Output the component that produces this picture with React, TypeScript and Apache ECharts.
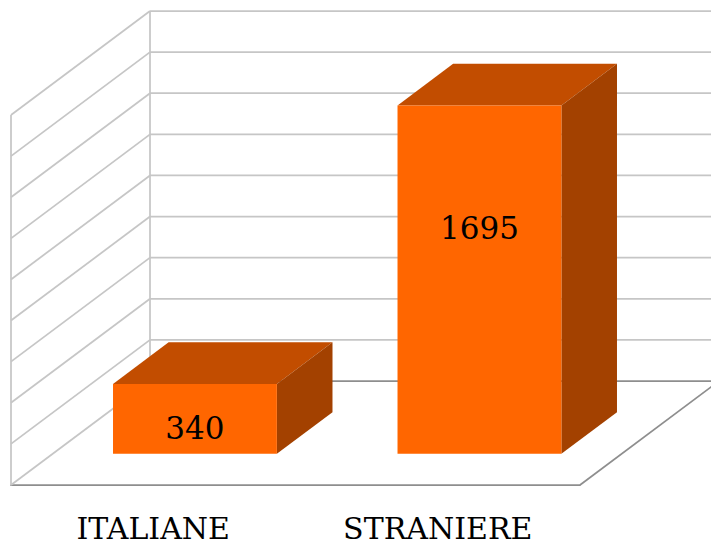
import React, { useEffect, useRef } from "react";
import * as echarts from "echarts";

// ---- data ----
const categories = ["ITALIANE", "STRANIERE"];
const values = [340, 1695];
const tickValues = [0, 200, 400, 600, 800, 1000, 1200, 1400, 1600, 1800];
const yMin = 0;
const yMax = 1800;
const yStep = 200;

// ---- style / projection constants ----
const DEPTH: [number, number] = [139, -104]; // full floor depth vector in px
const BAR_FRONT = 0.3; // bar front plane (fraction of depth)
const BAR_DEPTH = 0.4; // bar depth (fraction of depth)
const BAR_RATIO = 0.576; // bar width / category band
const LABEL_FRAC = [0.37, 0.648]; // label height within front face
const LIGHT = "#c6c6c6";
const DARK = "#8e8e8e";
const FRONT = "#ff6600";
const TOP = "#c24d00";
const SIDE = "#a34100";
const FONT = "'DejaVu Serif', 'Liberation Serif', serif";

export default function App() {
  const ref = useRef<HTMLDivElement>(null);

  useEffect(() => {
    if (!ref.current) return;
    const chart = echarts.init(ref.current, undefined, { renderer: "svg" });

    const wallItem = (params: any, api: any) => {
      const cs = params.coordSys;
      const v = api.value(1);
      const p = api.coord([0, v]);
      const y = p[1];
      const x0 = cs.x;
      const x1 = cs.x + cs.width;
      const [dx, dy] = DEPTH;
      const isFloor = v === yMin;
      const children: any[] = [];
      children.push({
        type: "line",
        shape: { x1: x0, y1: y, x2: x0 + dx, y2: y + dy },
        style: { stroke: LIGHT, lineWidth: 1.75 },
      });
      children.push({
        type: "line",
        shape: { x1: x0 + dx, y1: y + dy, x2: x1 + dx, y2: y + dy },
        style: { stroke: isFloor ? DARK : LIGHT, lineWidth: 1.75 },
      });
      if (isFloor) {
        const top = api.coord([0, yMax])[1];
        children.push({
          type: "line",
          shape: { x1: x1, y1: y, x2: x1 + dx, y2: y + dy },
          style: { stroke: DARK, lineWidth: 1.75 },
        });
        children.push({
          type: "line",
          shape: { x1: x0, y1: y, x2: x0, y2: top },
          style: { stroke: LIGHT, lineWidth: 1.75 },
        });
        children.push({
          type: "line",
          shape: { x1: x0 + dx, y1: y + dy, x2: x0 + dx, y2: top + dy },
          style: { stroke: LIGHT, lineWidth: 1.75 },
        });
      }
      return { type: "group", children };
    };

    const barItem = (params: any, api: any) => {
      const i = api.value(0);
      const v = api.value(1);
      const base = api.coord([i, 0]);
      const topP = api.coord([i, v]);
      const band = api.size([1, 0])[0];
      const w = band * BAR_RATIO;
      const fx = base[0] - w / 2 + DEPTH[0] * BAR_FRONT;
      const fy0 = base[1] + DEPTH[1] * BAR_FRONT;
      const fy1 = topP[1] + DEPTH[1] * BAR_FRONT;
      const dx = DEPTH[0] * BAR_DEPTH;
      const dy = DEPTH[1] * BAR_DEPTH;
      const ly = fy0 - (fy0 - fy1) * LABEL_FRAC[params.dataIndex];
      return {
        type: "group",
        children: [
          {
            type: "polygon",
            shape: {
              points: [
                [fx, fy1],
                [fx + w, fy1],
                [fx + w + dx, fy1 + dy],
                [fx + dx, fy1 + dy],
              ],
            },
            style: { fill: TOP },
          },
          {
            type: "polygon",
            shape: {
              points: [
                [fx + w, fy1],
                [fx + w + dx, fy1 + dy],
                [fx + w + dx, fy0 + dy],
                [fx + w, fy0],
              ],
            },
            style: { fill: SIDE },
          },
          {
            type: "rect",
            shape: { x: fx, y: fy1, width: w, height: fy0 - fy1 },
            style: { fill: FRONT },
          },
          {
            type: "text",
            style: {
              text: String(v),
              x: fx + w / 2,
              y: ly,
              align: "center",
              verticalAlign: "middle",
              fill: "#000",
              font: `31px ${FONT}`,
            },
          },
        ],
      };
    };

    chart.setOption({
      animation: false,
      grid: { left: 11, right: 131, top: 115, bottom: 62, containLabel: false },
      xAxis: {
        type: "category",
        data: categories,
        axisLine: { show: true, lineStyle: { color: DARK, width: 1.75 } },
        axisTick: { show: false },
        splitLine: { show: false },
        axisLabel: {
          color: "#000",
          fontFamily: FONT,
          fontSize: 30,
          lineHeight: 26,
          verticalAlign: "middle",
          margin: 43,
        },
      },
      yAxis: {
        type: "value",
        min: yMin,
        max: yMax,
        interval: yStep,
        show: false,
      },
      series: [
        {
          type: "custom",
          renderItem: wallItem,
          data: tickValues.map((t) => [0, t]),
          silent: true,
          z: 1,
        },
        {
          type: "custom",
          renderItem: barItem,
          data: values.map((v, i) => [i, v]),
          z: 3,
        },
      ],
    });

    return () => chart.dispose();
  }, []);

  return (
    <div
      ref={ref}
      style={{ position: "absolute", left: 0, top: 0, width: 711, height: 547, background: "#fff" }}
    />
  );
}
